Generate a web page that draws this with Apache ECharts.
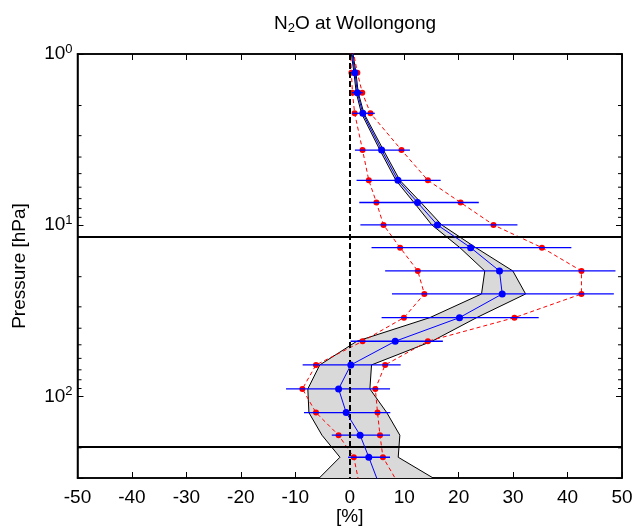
<!DOCTYPE html>
<html><head><meta charset="utf-8">
<script src="https://cdn.jsdelivr.net/npm/echarts@6/dist/echarts.min.js"></script>
<style>html,body{margin:0;padding:0;background:#fff}#c{width:635px;height:528px}</style>
</head><body><div id="c"></div>
<script>
// ---- data ----
const xTicks = [-50, -40, -30, -20, -10, 0, 10, 20, 30, 40, 50];
const levels = [1.286, 1.683, 2.22, 3.64, 5.47, 7.37, 9.97, 13.53, 18.51, 25.23, 34.7, 47.66, 65.55, 90.5, 124.5, 168.7, 226.9];
const levelTop = 0.95, levelBottom = 309;           // profile continues beyond plotted range
const meanProfile = [0.95, 1.4, 2.4, 5.85, 8.85, 12.45, 16.1, 22.2, 27.5, 28.0, 20.15, 8.35, 0.2, -2.05, -0.65, 1.9, 3.5];
const meanTop = 0.35, meanBottom = 5.1;
const redLeft = [0.3, 0.5, 0.9, 2.35, 3.5, 4.9, 6.2, 9.25, 12.5, 13.7, 9.95, 2.35, -6.2, -8.7, -6.2, -2.05, 0.75];
const redLeftTop = 0.15, redLeftBottom = 1.6;
const redRight = [1.4, 2.3, 3.8, 9.5, 14.35, 20.35, 26.4, 35.3, 42.55, 42.55, 30.25, 14.35, 6.5, 4.7, 5.1, 5.55, 6.1];
const redRightTop = 0.6, redRightBottom = 8.55;
const errLeft = [0.2, 0.4, 0.5, 0.95, 1.25, 1.75, 1.95, 4.0, 6.5, 7.75, 5.85, 0.15, -8.65, -11.7, -8.4, -3.3, -0.3];
const errRight = [1.5, 2.4, 4.6, 11.05, 16.7, 23.7, 30.8, 40.7, 48.8, 48.5, 34.7, 17.1, 9.35, 7.4, 7.45, 7.4, 7.4];
const bandPressure = [0.95, 1.286, 1.683, 2.22, 3.64, 5.47, 7.37, 9.97, 13.53, 18.51, 25.23, 34.7, 47.66, 65.55, 90.5, 124.5, 168.7, 226.9, 309];
const bandLeft = [0.2, 0.77, 1.19, 2.15, 5.54, 8.48, 11.78, 15.08, 20.22, 24.8, 24.2, 14.7, 1.3, -5.5, -7.7, -7.5, -5.1, -1.8, -6.0];
const bandRight = [0.5, 1.14, 1.56, 2.6, 6.18, 9.2, 13.06, 16.9, 23.15, 29.95, 32.3, 23.3, 15.1, 4.0, 3.7, 6.8, 9.2, 8.9, 16.0];
const boundaryLevels = [11.7, 198];
const minorTickPressures = [2, 3, 4, 5, 6, 7, 8, 9, 20, 30, 40, 50, 60, 70, 80, 90, 200];
const xMin = -50, xMax = 50, yMin = 1, yMax = 300;

const FONT = '"Liberation Sans", Arial, Helvetica, sans-serif';

function withEnds(top, arr, bottom, p0, parr, p1) {
  const out = [{ value: [top, p0], symbol: 'none' }];
  arr.forEach((v, i) => out.push([v, parr[i]]));
  out.push({ value: [bottom, p1], symbol: 'none' });
  return out;
}

const chart = echarts.init(document.getElementById('c'), null, { renderer: 'canvas' });

const yLabel = {
  fontFamily: FONT, color: '#000',
  formatter: v => {
    const e = Math.log10(v);
    if (Math.abs(e - Math.round(e)) > 1e-6) return '';
    return '{b|10}{s|' + Math.round(e) + '}';
  },
  rich: {
    b: { fontSize: 19, fontFamily: FONT, color: '#000', lineHeight: 22 },
    s: { fontSize: 13, fontFamily: FONT, color: '#000', lineHeight: 13, verticalAlign: 'top', padding: [0, 0, 20, 0] }
  },
  margin: 5
};

const option = {
  animation: false,
  backgroundColor: '#fff',
  title: {
    text: '{a|N}{s|2}{a|O at Wollongong}',
    left: 350, top: 8, textAlign: 'center',
    textStyle: {
      fontWeight: 'normal',
      rich: {
        a: { fontSize: 19, fontFamily: FONT, color: '#000', lineHeight: 22, fontWeight: 'normal' },
        s: { fontSize: 13, fontFamily: FONT, color: '#000', lineHeight: 13, verticalAlign: 'bottom', padding: [14, 0, 0, 0], fontWeight: 'normal' }
      }
    }
  },
  grid: { left: 77.5, right: 13, top: 54, bottom: 50, show: true, borderColor: '#000', borderWidth: 1.5, backgroundColor: 'transparent', containLabel: false, outerBoundsMode: 'none' },
  xAxis: [{
    type: 'value', min: xMin, max: xMax, interval: 10, position: 'bottom',
    name: '[%]', nameLocation: 'middle', nameGap: 29, nameMoveOverlap: false,
    nameTextStyle: { fontFamily: FONT, fontSize: 19, color: '#000' },
    axisLine: { show: true, onZero: false, lineStyle: { color: '#000', width: 1.5 } },
    axisTick: { show: true, inside: true, length: 6, lineStyle: { color: '#000' } },
    axisLabel: { fontFamily: FONT, fontSize: 19, color: '#000', margin: 10 },
    splitLine: { show: false }
  }, {
    type: 'value', min: xMin, max: xMax, interval: 10, position: 'top',
    axisLine: { show: true, onZero: false, lineStyle: { color: '#000', width: 1.5 } },
    axisTick: { show: true, inside: true, length: 6, lineStyle: { color: '#000' } },
    axisLabel: { show: false }, splitLine: { show: false }
  }],
  yAxis: [{
    type: 'log', logBase: 10, min: yMin, max: yMax, inverse: true, position: 'left',
    name: 'Pressure [hPa]', nameLocation: 'middle', nameGap: 48, nameRotate: 90, nameMoveOverlap: false,
    nameTextStyle: { fontFamily: FONT, fontSize: 19, color: '#000' },
    axisLine: { show: true, onZero: false, lineStyle: { color: '#000', width: 1.5 } },
    axisTick: { show: true, inside: true, length: 6, lineStyle: { color: '#000' } },
    axisLabel: yLabel, splitLine: { show: false }
  }, {
    type: 'log', logBase: 10, min: yMin, max: yMax, inverse: true, position: 'right',
    axisLine: { show: true, onZero: false, lineStyle: { color: '#000', width: 1.5 } },
    axisTick: { show: true, inside: true, length: 6, lineStyle: { color: '#000' } },
    axisLabel: { show: false }, splitLine: { show: false }
  }],
  series: [
    {
      type: 'custom', name: 'band', z: 1, clip: true,
      data: [[bandLeft[0], bandPressure[0]]],
      renderItem: (params, api) => {
        const pts = [];
        for (let i = 0; i < bandPressure.length; i++) pts.push(api.coord([bandLeft[i], bandPressure[i]]));
        for (let i = bandPressure.length - 1; i >= 0; i--) pts.push(api.coord([bandRight[i], bandPressure[i]]));
        const cs = params.coordSys;
        return {
          type: 'polygon', shape: { points: pts },
          style: { fill: '#d9d9d9', stroke: '#000', lineWidth: 1 },
          clipPath: { type: 'rect', shape: { x: cs.x, y: cs.y, width: cs.width, height: cs.height } }
        };
      }
    },
    {
      type: 'line', name: 'zero', z: 2, data: [], symbol: 'none',
      markLine: {
        silent: true, symbol: 'none', label: { show: false },
        lineStyle: { color: '#000', type: [6, 3], width: 2 },
        data: [{ xAxis: 0 }]
      }
    },
    {
      type: 'line', name: 'redL', z: 3, clip: true,
      data: withEnds(redLeftTop, redLeft, redLeftBottom, levelTop, levels, levelBottom),
      symbol: 'circle', symbolSize: 6, showAllSymbol: true,
      lineStyle: { color: '#ff0000', width: 1, type: [4, 3] },
      itemStyle: { color: '#ff0000' }
    },
    {
      type: 'line', name: 'redR', z: 3, clip: true,
      data: withEnds(redRightTop, redRight, redRightBottom, levelTop, levels, levelBottom),
      symbol: 'circle', symbolSize: 6, showAllSymbol: true,
      lineStyle: { color: '#ff0000', width: 1, type: [4, 3] },
      itemStyle: { color: '#ff0000' }
    },
    {
      type: 'custom', name: 'errbars', z: 4,
      data: levels.map((p, i) => [errLeft[i], errRight[i], p]),
      encode: { x: [0, 1], y: 2 },
      renderItem: (params, api) => {
        const a = api.coord([api.value(0), api.value(2)]);
        const b = api.coord([api.value(1), api.value(2)]);
        return { type: 'line', shape: { x1: a[0], y1: a[1], x2: b[0], y2: b[1] }, style: { stroke: '#0000ff', lineWidth: 1.3 } };
      }
    },
    {
      type: 'line', name: 'mean', z: 5, clip: true,
      data: withEnds(meanTop, meanProfile, meanBottom, levelTop, levels, levelBottom),
      symbol: 'circle', symbolSize: 7, showAllSymbol: true,
      lineStyle: { color: '#0000ff', width: 1 },
      itemStyle: { color: '#0000ff' }
    },
    {
      type: 'line', name: 'bounds', z: 6, data: [], symbol: 'none',
      markLine: {
        silent: true, symbol: 'none', label: { show: false },
        lineStyle: { color: '#000', type: 'solid', width: 2 },
        data: boundaryLevels.map(p => ({ yAxis: p }))
      }
    },
    {
      type: 'custom', name: 'minorTicks', z: 7,
      data: minorTickPressures.map(p => [xMin, p]),
      renderItem: (params, api) => {
        const p = api.value(1);
        const a = api.coord([xMin, p]);
        const b = api.coord([xMax, p]);
        return {
          type: 'group', children: [
            { type: 'line', shape: { x1: a[0], y1: a[1], x2: a[0] + 4, y2: a[1] }, style: { stroke: '#000', lineWidth: 1 } },
            { type: 'line', shape: { x1: b[0], y1: b[1], x2: b[0] - 4, y2: b[1] }, style: { stroke: '#000', lineWidth: 1 } }
          ]
        };
      }
    }
  ]
};
chart.setOption(option);
</script></body></html>
